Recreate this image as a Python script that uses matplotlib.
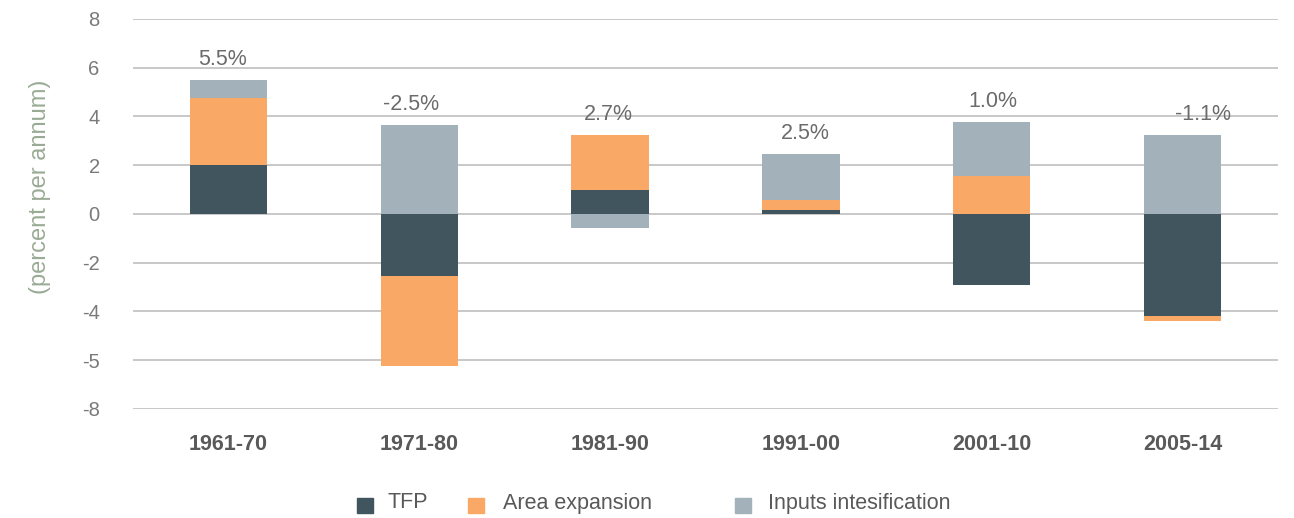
import numpy as np
import matplotlib
matplotlib.use("Agg")
import matplotlib.pyplot as plt
from matplotlib.patches import Rectangle

categories = ["1961-70", "1971-80", "1981-90", "1991-00", "2001-10", "2005-14"]
tfp = [2.0, -2.55, 1.0, 0.16, -2.9, -4.18]
area = [2.75, -3.69, 2.24, 0.41, 1.55, -0.23]
inputs = [0.75, 3.65, -0.56, 1.89, 2.22, 3.24]
totals = ["5.5%", "-2.5%", "2.7%", "2.5%", "1.0%", "-1.1%"]
ytick_vals = [8, 6, 4, 2, 0, -2, -4, -6, -8]
ytick_labels = ["8", "6", "4", "2", "0", "-2", "-4", "-5", "-8"]

series = [("TFP", tfp, "#41555f"),
          ("Area expansion", area, "#f9a965"),
          ("Inputs intesification", inputs, "#a3b2ba")]

# label nudges (pixels), styling only
label_dx = [-6, -8, -2, 4, 1, 20]

plt.rcParams['font.family'] = ['Liberation Sans', 'DejaVu Sans']

W, H = 1294, 518
fig = plt.figure(figsize=(W / 100, H / 100), dpi=100)
ax = fig.add_axes([133 / W, 1 - 409 / H, (1278 - 133) / W, (409 - 19) / H])

x = np.arange(len(categories))
pos_base = np.zeros(len(categories))
neg_base = np.zeros(len(categories))
w = 0.405
for name, vals, col in series:
    v = np.array(vals)
    bottoms = np.where(v >= 0, pos_base, neg_base)
    ax.bar(x, v, w, bottom=bottoms, color=col, zorder=3, label=name)
    pos_base = pos_base + np.where(v >= 0, v, 0)
    neg_base = neg_base + np.where(v < 0, v, 0)

for xi, top, lab, dx in zip(x, pos_base, totals, label_dx):
    ax.annotate(lab, (xi, top), xytext=(dx * 0.72, 15), textcoords="offset points",
                ha="center", va="center", fontsize=15.5, color="#6b6b6b")

ax.set_xlim(-0.5, 5.5)
ax.set_ylim(-8, 8)
ax.set_yticks(ytick_vals)
ax.set_yticklabels(ytick_labels)
ax.set_xticks(x)
ax.set_xticklabels(categories)
ax.grid(axis="y", color="#c4c4c4", linewidth=1.3, zorder=0)
for s in ax.spines.values():
    s.set_visible(False)
ax.tick_params(axis="y", length=0, pad=24, labelsize=14.5, labelcolor="#7a7a7a")
ax.tick_params(axis="x", length=0, pad=18, labelsize=15.5, labelcolor="#595959")
for t in ax.get_xticklabels():
    t.set_fontweight("bold")

fig.text(40 / W, 1 - 187 / H, "(percent per annum)", rotation=90, ha="center",
         va="center", fontsize=17, color="#9aab95")

# legend drawn manually
leg_items = [(357, 387), (468, 503), (735, 768)]
for (sx, tx), (name, _, col) in zip(leg_items, series):
    fig.patches.append(Rectangle((sx / W, 1 - 513 / H), 16 / W, 15 / H,
                                 transform=fig.transFigure, color=col))
    fig.text(tx / W, 1 - 503 / H, name, ha="left", va="center",
             fontsize=15.5, color="#595959")

fig.savefig("out.png", dpi=100)
